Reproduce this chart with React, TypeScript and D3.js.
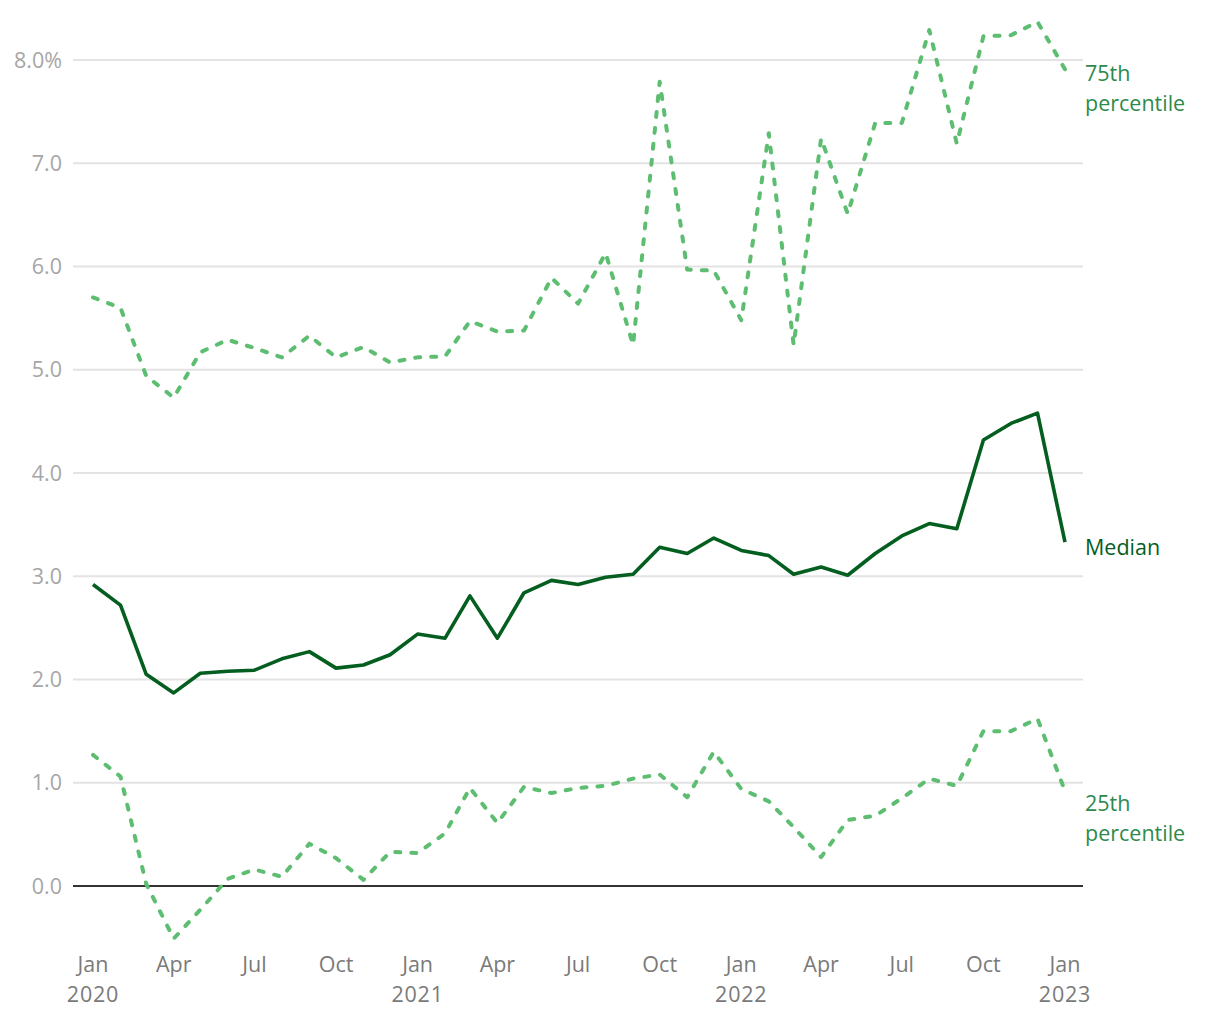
import React from "react";
import * as d3 from "d3";

const months = d3.range(37).map((i) => new Date(2020, i, 1));

const median = [2.92, 2.72, 2.05, 1.87, 2.06, 2.08, 2.09, 2.2, 2.27, 2.11, 2.14, 2.24, 2.44, 2.4, 2.81, 2.4, 2.84, 2.96, 2.92, 2.99, 3.02, 3.28, 3.22, 3.37, 3.25, 3.2, 3.02, 3.09, 3.01, 3.22, 3.39, 3.51, 3.46, 4.32, 4.48, 4.58, 3.33];

const p75 = [5.7, 5.6, 4.94, 4.73, 5.17, 5.29, 5.21, 5.12, 5.33, 5.12, 5.22, 5.07, 5.12, 5.13, 5.47, 5.37, 5.38, 5.89, 5.64, 6.13, 5.24, 7.79, 5.97, 5.96, 5.48, 7.29, 5.24, 7.24, 6.51, 7.39, 7.39, 8.29, 7.19, 8.23, 8.24, 8.37, 7.91];

const p25 = [1.27, 1.06, 0.02, -0.51, -0.23, 0.07, 0.16, 0.09, 0.41, 0.27, 0.06, 0.33, 0.32, 0.51, 0.95, 0.61, 0.96, 0.9, 0.95, 0.97, 1.04, 1.08, 0.86, 1.3, 0.94, 0.82, 0.57, 0.28, 0.64, 0.68, 0.85, 1.04, 0.97, 1.5, 1.5, 1.62, 0.92];

const yTicks = [0, 1, 2, 3, 4, 5, 6, 7, 8];
const xTickMonths = [0, 3, 6, 9, 12, 15, 18, 21, 24, 27, 30, 33, 36];
const monthNames = ["Jan", "Feb", "Mar", "Apr", "May", "Jun", "Jul", "Aug", "Sep", "Oct", "Nov", "Dec"];

const FONT = "'Open Sans', Lato, sans-serif";
const FS = 21.5;

export default function App() {
  const x = d3.scaleTime().domain([months[0], months[36]]).range([93, 1065]);
  const y = d3.scaleLinear().domain([0, 8]).range([886, 60]);

  const line = d3
    .line<number>()
    .x((_, i) => x(months[i]))
    .y((d) => y(d));

  const lastX = x(months[36]);

  return (
    <svg
      width={1220}
      height={1020}
      style={{ position: "absolute", left: 0, top: 0, background: "#fff" }}
      fontFamily={FONT}
    >
      {yTicks.map((t) => (
        <g key={t}>
          {t !== 0 && (
            <line x1={73} x2={1083} y1={y(t)} y2={y(t)} stroke="#e3e3e3" strokeWidth={2} />
          )}
          <text
            x={62}
            y={y(t)}
            dy="0.35em"
            textAnchor="end"
            fontSize={FS}
            fill="#a6a6a6"
          >
            {t.toFixed(1) + (t === 8 ? "%" : "")}
          </text>
        </g>
      ))}
      <line x1={73} x2={1083} y1={y(0)} y2={y(0)} stroke="#333" strokeWidth={2} />

      {xTickMonths.map((m) => {
        const d = months[m];
        const xx = x(d);
        return (
          <g key={m}>
            <text x={xx} y={972} textAnchor="middle" fontSize={FS} fill="#7a7a7a">
              {monthNames[d.getMonth()]}
            </text>
            {d.getMonth() === 0 && (
              <text x={xx} y={1002} textAnchor="middle" fontSize={FS} fill="#7a7a7a" letterSpacing={0.8}>
                {d.getFullYear()}
              </text>
            )}
          </g>
        );
      })}

      <path
        d={line(p75) || ""}
        fill="none"
        stroke="#5dbd70"
        strokeWidth={4}
        strokeDasharray="5 11"
        strokeLinecap="round"
        strokeLinejoin="round"
      />
      <path
        d={line(p25) || ""}
        fill="none"
        stroke="#5dbd70"
        strokeWidth={4}
        strokeDasharray="5 11"
        strokeLinecap="round"
        strokeLinejoin="round"
      />
      <path
        d={line(median) || ""}
        fill="none"
        stroke="#045e1f"
        strokeWidth={3.6}
        strokeLinejoin="round"
      />

      <text x={lastX + 20} y={73} dy="0.35em" fontSize={FS} fill="#2e8a4c">75th</text>
      <text x={lastX + 20} y={103} dy="0.35em" fontSize={FS} fill="#2e8a4c">percentile</text>
      <text x={lastX + 20} y={547} dy="0.35em" fontSize={FS} fill="#045e1f">Median</text>
      <text x={lastX + 20} y={803} dy="0.35em" fontSize={FS} fill="#2e8a4c">25th</text>
      <text x={lastX + 20} y={833} dy="0.35em" fontSize={FS} fill="#2e8a4c">percentile</text>
    </svg>
  );
}
